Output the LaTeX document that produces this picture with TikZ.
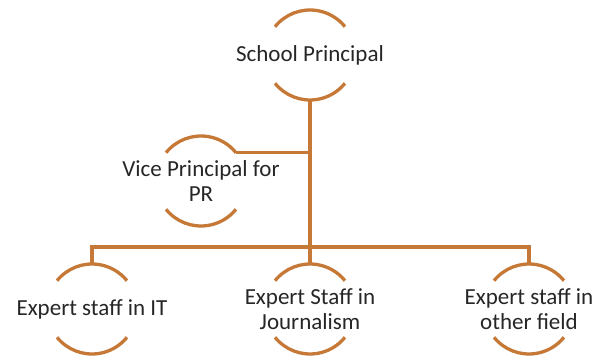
\documentclass[tikz,border=0pt]{standalone}
\usepackage{fontspec}
\setmainfont{Carlito}
\definecolor{orgbrown}{RGB}{198,120,55}
\tikzset{
  orgtext/.style={align=center,inner sep=0pt,text=black!85,
    font=\fontsize{23}{25}\selectfont},
  orgline/.style={draw=orgbrown,line width=3.3pt}
}
\begin{document}
\begin{tikzpicture}[x=1pt,y=1pt]
\useasboundingbox (0,0) rectangle (598,-358);
% the people
\node[orgtext] (sp) at (310,-55) {School Principal};
\node[orgtext] (vp) at (201,-181) {Vice Principal for\\PR};
\node[orgtext] (it) at (92,-309) {Expert staff in IT};
\node[orgtext] (jr) at (310,-309) {Expert Staff in\\Journalism};
\node[orgtext] (of) at (529,-309) {Expert staff in\\other field};
% round brackets above and below each text
\foreach \n in {sp,vp,it,jr,of}
{
\draw[orgline] ([shift={(141:45)}]\n.center) arc[start angle=141,end angle=39,radius=45];
\draw[orgline] ([shift={(219:45)}]\n.center) arc[start angle=219,end angle=321,radius=45];
}
% the lines between them
\coordinate (bus) at (310,-247);
\coordinate (vpe) at ([shift={(39:45)}]vp.center);
\draw[orgline] ([yshift=-45pt]sp.center) -- (bus);
\draw[orgline] (vpe) -- (vpe -| sp.center);
\draw[orgline] ([yshift=45pt]it.center) |- (bus) -| ([yshift=45pt]of.center);
\draw[orgline] (bus) -- ([yshift=45pt]jr.center);
\end{tikzpicture}
\end{document}
